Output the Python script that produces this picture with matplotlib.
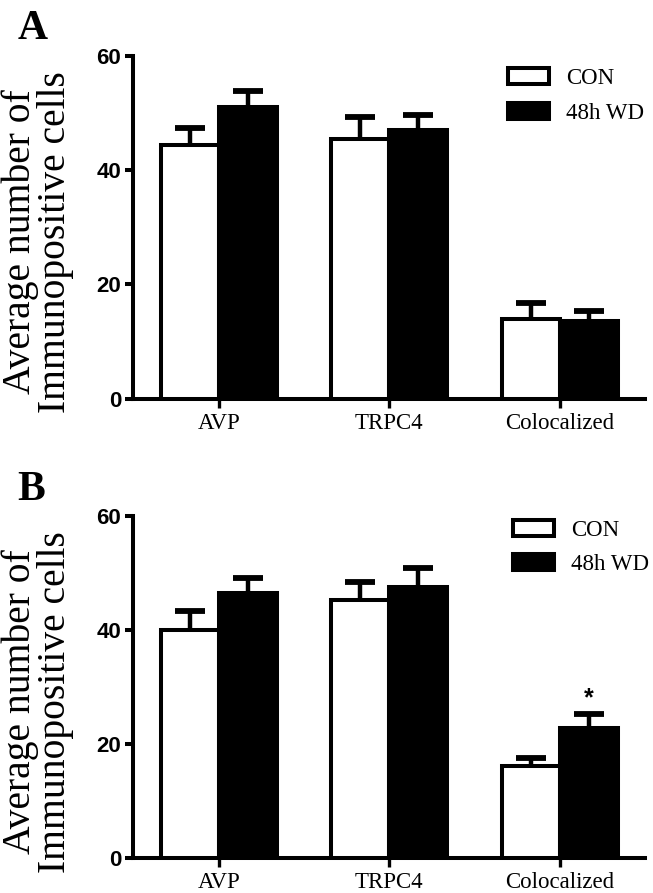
import matplotlib
matplotlib.use("Agg")
import matplotlib.pyplot as plt
from matplotlib.patches import Patch

# data
groups = ['AVP', 'TRPC4', 'Colocalized']

a_con = [44.3, 45.5, 13.9]
a_con_err = [3.1, 3.8, 2.8]
a_wd = [51.0, 47.0, 13.6]
a_wd_err = [2.8, 2.6, 1.8]

b_con = [40.1, 45.3, 16.1]
b_con_err = [3.2, 3.1, 1.4]
b_wd = [46.6, 47.5, 22.9]
b_wd_err = [2.6, 3.4, 2.4]

serie_names = ['CON', '48h WD']
y_ticks = [0, 20, 40, 60]

serif = ['Liberation Serif', 'DejaVu Serif']
sans = ['Liberation Sans', 'DejaVu Sans']

W = 0.34
LW = 2.9


def painel(ax, con, con_err, wd, wd_err, leg_xy, estrela=None):
    x = range(len(groups))
    x_con = [i - W / 2 for i in x]
    x_wd = [i + W / 2 for i in x]

    ax.bar(x_con, con, W, color='white', edgecolor='black', linewidth=LW, zorder=3)
    ax.bar(x_wd, wd, W, color='black', edgecolor='black', linewidth=LW, zorder=3)

    for xs, ys, es in [(x_con, con, con_err), (x_wd, wd, wd_err)]:
        eb = ax.errorbar(xs, ys, yerr=[[0] * len(es), es], fmt='none', ecolor='black',
                         elinewidth=3.2, capsize=11, capthick=4.2, zorder=2)
        eb[1][0].set_visible(False)

    if estrela is not None:
        i = estrela
        ax.text(x_wd[i], wd[i] + wd_err[i] + 0.6, '*', ha='center', va='bottom',
                fontsize=18, fontweight='bold', family=sans)

    ax.set_xlim(-0.505, 2.5)
    ax.set_ylim(0, 60)
    ax.set_yticks(y_ticks)
    ax.set_xticks(list(x))
    ax.set_xticklabels(groups, family=serif, fontsize=16.5)
    for t in ax.get_yticklabels():
        t.set_family(sans)
        t.set_fontweight('bold')
        t.set_fontsize(16)

    ax.spines['top'].set_visible(False)
    ax.spines['right'].set_visible(False)
    ax.spines['left'].set_linewidth(LW)
    ax.spines['bottom'].set_linewidth(LW)
    ax.tick_params(axis='y', length=6, width=LW, pad=2.5)
    ax.tick_params(axis='x', length=6.5, width=2.4, pad=3.5)

    handles = [Patch(facecolor='white', edgecolor='black', linewidth=LW),
               Patch(facecolor='black', edgecolor='black', linewidth=LW)]
    ax.legend(handles, serie_names, loc='upper left', bbox_to_anchor=leg_xy,
              frameon=False, borderpad=0, borderaxespad=0,
              handlelength=1.8, handleheight=0.7, handletextpad=0.75,
              labelspacing=0.6, prop={'family': serif, 'size': 16.5})


fig = plt.figure(figsize=(6.53, 8.93), dpi=100)

ax_a = fig.add_axes([0.2037, 0.5536, 0.784, 0.384])
painel(ax_a, a_con, a_con_err, a_wd, a_wd_err, (0.732, 0.965))

ax_b = fig.add_axes([0.2037, 0.039, 0.784, 0.383])
painel(ax_b, b_con, b_con_err, b_wd, b_wd_err, (0.742, 0.99), estrela=2)

rotulo = 'Average number of\nImmunopositive cells'
for yc in [0.729, 0.214]:
    fig.text(0.002, yc, rotulo, rotation=90, ha='left', va='center',
             multialignment='center', family=serif, fontsize=28.5, linespacing=0.92)

fig.text(0.027, 0.9563, 'A', family=serif, fontsize=30, fontweight='bold', va='baseline')
fig.text(0.027, 0.440, 'B', family=serif, fontsize=30, fontweight='bold', va='baseline')

plt.savefig('out.png', dpi=100)
